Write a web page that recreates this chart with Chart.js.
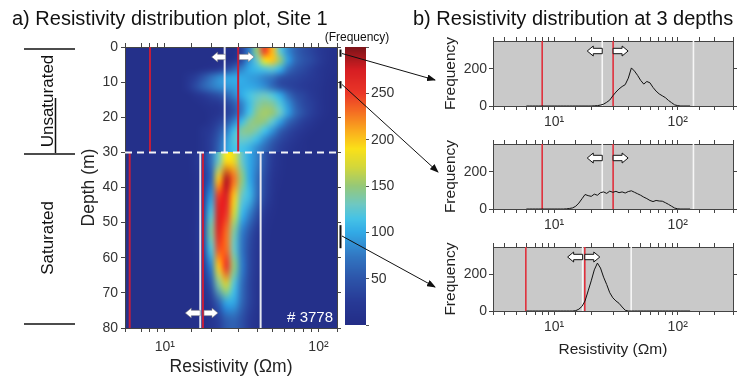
<!DOCTYPE html>
<html><head><meta charset="utf-8">
<script src="https://cdn.jsdelivr.net/npm/chart.js@4.4.1/dist/chart.umd.min.js"></script>
<style>
html,body{margin:0;padding:0;background:#fff;}
#wrap{position:relative;width:748px;height:380px;overflow:hidden;font-family:"Liberation Sans",Arial,sans-serif;}
canvas,svg{position:absolute;left:0;top:0;}
</style></head><body>
<div id="wrap">
<canvas id="cA" width="748" height="380"></canvas>
<canvas id="cB" width="748" height="380"></canvas>
<canvas id="h1" width="748" height="380"></canvas>
<canvas id="h2" width="748" height="380"></canvas>
<canvas id="h3" width="748" height="380"></canvas>
<svg id="ov" width="748" height="380" xmlns="http://www.w3.org/2000/svg" font-family="Liberation Sans, Arial, sans-serif">
  <defs><marker id="ah" markerWidth="9" markerHeight="7" refX="8" refY="3.5" orient="auto" markerUnits="userSpaceOnUse"><path d="M0,0 L9,3.5 L0,7 z" fill="#111"/></marker></defs>
  <text x="12" y="25" font-size="20" fill="#111">a) Resistivity distribution plot, Site 1</text>
  <text x="413" y="25" font-size="20" fill="#111">b) Resistivity distribution at 3 depths</text>
  <g stroke="#111" stroke-width="1.5">
    <line x1="24" y1="49" x2="75" y2="49"/>
    <line x1="24" y1="154" x2="75" y2="154"/>
    <line x1="24" y1="324" x2="75" y2="324"/>
    <line x1="55.5" y1="98" x2="55.5" y2="153"/>
  </g>
  <text transform="translate(52.5,101) rotate(-90)" text-anchor="middle" font-size="17" fill="#111">Unsaturated</text>
  <text transform="translate(52.5,238) rotate(-90)" text-anchor="middle" font-size="17" fill="#111">Saturated</text>
  <text x="357" y="41" text-anchor="middle" font-size="12" fill="#111">(Frequency)</text>
  <g stroke="#111" stroke-width="1" marker-end="url(#ah)">
    <line x1="342" y1="53.5" x2="435" y2="80"/>
    <line x1="342" y1="84.5" x2="438" y2="172"/>
    <line x1="342" y1="236" x2="435" y2="287"/>
  </g>
</svg>
</div>
<script>
// ---------- data ----------
const RES_COLS = [10,11.22,12.59,14.13,15.85,17.78,19.95,22.39,25.12,28.18,31.62,35.48,39.81,44.67,50.12,56.23,63.1,70.79,79.43,89.13,100,112.2,125.9];
const UPPER_ROW_EDGES = [0,2.5,5,7.5,10,12.5,15,17.5,20,22.5,25,27.5,30];
const UPPER_FREQ = [
 [5,5,5,5,5,5,5,5,5,5,30,80,150,245,205,125,85,60,45,35,25,15,10],
 [5,5,5,5,5,5,5,5,5,15,40,90,130,185,200,150,95,65,50,40,28,15,8],
 [5,5,5,5,5,10,15,25,40,60,80,100,110,120,125,105,70,50,40,30,20,12,8],
 [5,5,5,15,30,50,70,85,95,100,100,95,90,80,70,50,40,35,30,25,18,10,6],
 [5,5,5,20,40,60,75,85,90,95,100,100,95,85,65,45,35,30,25,20,15,8,5],
 [5,5,5,5,15,25,35,45,60,80,100,115,125,130,120,100,70,45,35,25,15,8,5],
 [5,5,5,5,5,10,15,20,35,55,80,110,135,145,140,120,90,60,40,30,18,8,5],
 [5,5,5,5,5,5,10,15,30,50,80,115,145,155,150,130,95,65,45,30,18,8,5],
 [5,5,5,5,5,5,15,30,50,80,110,140,150,145,125,95,65,45,30,20,10,5,5],
 [5,5,5,5,5,15,25,45,75,110,140,145,135,115,90,60,40,28,18,10,5,5,5],
 [5,5,5,5,5,15,30,55,90,120,130,125,110,85,60,40,28,18,10,5,5,5,5],
 [5,5,5,5,5,15,30,60,95,115,115,105,85,65,45,30,20,12,8,5,5,5,5]
];
const LOWER_ROW_EDGES = [30,35,40,45,50,55,60,65,70,75,80];
const LOWER_FREQ = [
 [5,5,5,5,15,30,70,130,190,180,130,100,80,50,25,12,5,5,5,5,5,5,5],
 [5,5,5,5,10,25,60,200,285,230,150,100,70,40,18,8,5,5,5,5,5,5,5],
 [5,5,5,5,10,30,90,250,270,200,130,110,70,35,15,5,5,5,5,5,5,5,5],
 [5,5,5,5,10,35,120,270,250,170,110,80,45,20,8,5,5,5,5,5,5,5,5],
 [5,5,5,5,12,40,140,265,230,140,80,50,25,12,5,5,5,5,5,5,5,5,5],
 [5,5,5,5,10,35,120,240,230,130,75,40,20,8,5,5,5,5,5,5,5,5,5],
 [5,5,5,5,8,25,80,200,250,150,80,40,18,8,5,5,5,5,5,5,5,5,5],
 [5,5,5,5,5,15,50,140,170,120,70,35,15,5,5,5,5,5,5,5,5,5,5],
 [5,5,5,5,5,10,25,60,100,100,65,35,15,5,5,5,5,5,5,5,5,5,5],
 [5,5,5,5,5,5,15,30,55,60,45,25,12,5,5,5,5,5,5,5,5,5,5]
];
const HIST_RES = [5.96,6.31,6.68,7.08,7.5,7.94,8.41,8.91,9.44,10,10.59,11.22,11.89,12.59,13.34,14.13,14.96,15.85,16.79,17.78,18.84,19.95,21.13,22.39,23.71,25.12,26.61,28.18,29.85,31.62,33.5,35.48,37.58,39.81,42.17,44.67,47.32,50.12,53.09,56.23,59.57,63.1,66.83,70.79,74.99,79.43,84.14,89.13,94.41,100,105.9,112.2,118.9,125.9];
const HIST_2M = [0,0,0,0,0,0,0,0,0,0,0,0,0,0,0,0,0,0,0,0,0,0,1,2,5,10,20,32,55,75,92,105,115,150,205,188,165,138,118,132,125,100,80,65,55,45,30,18,6,2,0,0,0,0];
const HIST_10M = [0,0,0,0,0,0,0,0,0,0,0,0,0,1,3,6,15,32,55,78,72,68,80,74,88,92,84,96,90,95,88,92,86,94,98,90,82,74,64,56,46,40,46,43,42,34,25,15,5,1,0,0,0,0];
const HIST_53M = [0,0,0,0,0,0,0,0,0,0,0,0,0,0,0,0,2,10,25,55,110,165,225,262,235,185,145,100,72,55,42,22,4,0,0,0,0,0,0,0,0,0,0,0,0,0,0,0,0,0,0,0,0,0];
const RED_UPPER = [8, 30];
const WHITE_UPPER = [24.5, 134];
const RED_LOWER = [5.9, 17.7];
const WHITE_LOWER = [17, 42];
const WATER_TABLE = 30;
const DEPTH_WINDOWS = [[1, 2.5], [10, 11.5], [51, 57]];
const COUNT_LABEL = '# 3778';
const CBAR_TICKS = [50, 100, 150, 200, 250];
const HIST_Y_TICKS = [0, 200];
const X_TICK_LABELS = {10: '10¹', 100: '10²'};
const A_RANGE_X = [5.5, 132], A_RANGE_Y = [0, 80];
const H_RANGE_X = [3.2, 280], H_RANGE_Y = [0, 350];
const CB_RANGE = [0, 300];

// ---------- style ----------
const CMAP = [
 [0,35,45,135],[25,40,58,150],[50,45,85,170],[75,50,120,195],[100,50,170,230],
 [115,70,195,230],[130,110,200,195],[150,150,200,120],[170,210,215,60],[190,250,225,25],
 [210,250,170,30],[230,245,110,35],[250,235,55,40],[275,215,30,35],[300,125,20,25]];
function cmap(v){
  v = Math.max(CMAP[0][0], Math.min(CMAP[CMAP.length-1][0], v));
  for (let i=1;i<CMAP.length;i++){
    if (v <= CMAP[i][0]) {
      const a=CMAP[i-1], b=CMAP[i], t=(v-a[0])/(b[0]-a[0]);
      return [a[1]+t*(b[1]-a[1]), a[2]+t*(b[2]-a[2]), a[3]+t*(b[3]-a[3])];
    }
  }
  const l=CMAP[CMAP.length-1]; return [l[1],l[2],l[3]];
}
const RED_A = '#c21e3c', WHITE_A = '#e4e6f0', RED_H = '#e0303c', WHITE_H = '#f6f6f6';
Chart.defaults.font.family = '"Liberation Sans", Arial, sans-serif';
Chart.defaults.color = '#222';

function vline(v, y0, y1, color, w){
  return {data:[{x:v,y:y0},{x:v,y:y1}], showLine:true, borderColor:color, borderWidth:w, pointRadius:0};
}
function logLabel(v){
  for (const k in X_TICK_LABELS) if (Math.abs(v - (+k)) < 1e-6) return X_TICK_LABELS[k];
  return '';
}
function blockArrow(ctx, xBase, y, dir, len, fill, stroke, lw){
  const hl = 6, hh = 5, sh = 2.7, xTip = xBase + dir*len, xh = xTip - dir*hl;
  ctx.beginPath();
  ctx.moveTo(xBase, y-sh); ctx.lineTo(xh, y-sh); ctx.lineTo(xh, y-hh); ctx.lineTo(xTip, y);
  ctx.lineTo(xh, y+hh); ctx.lineTo(xh, y+sh); ctx.lineTo(xBase, y+sh); ctx.closePath();
  ctx.fillStyle = fill; ctx.fill();
  if (stroke) { ctx.strokeStyle = stroke; ctx.lineWidth = lw; ctx.stroke(); }
}
function drawGrid(chart, grid, rowEdges){
  const xs = chart.scales.x, ys = chart.scales.y, ctx = chart.ctx;
  const nR = grid.length, nC = RES_COLS.length;
  const off = document.createElement('canvas'); off.width = nC; off.height = nR;
  const octx = off.getContext('2d'); const img = octx.createImageData(nC, nR);
  for (let r=0;r<nR;r++) for (let c=0;c<nC;c++){
    const col = cmap(grid[r][c]), k = (r*nC+c)*4;
    img.data[k]=col[0]; img.data[k+1]=col[1]; img.data[k+2]=col[2]; img.data[k+3]=255;
  }
  octx.putImageData(img,0,0);
  const lo = RES_COLS[0]/Math.sqrt(RES_COLS[1]/RES_COLS[0]);
  const hi = RES_COLS[nC-1]*Math.sqrt(RES_COLS[nC-1]/RES_COLS[nC-2]);
  const x0 = xs.getPixelForValue(lo), x1 = xs.getPixelForValue(hi);
  const y0 = ys.getPixelForValue(rowEdges[0]), y1 = ys.getPixelForValue(rowEdges[rowEdges.length-1]);
  ctx.imageSmoothingEnabled = true; ctx.imageSmoothingQuality = 'high';
  ctx.drawImage(off, x0, y0, x1-x0, y1-y0);
}
const heatPlugin = {
  id:'heat',
  beforeDraw(chart){
    const {ctx, chartArea:a} = chart;
    ctx.save();
    ctx.beginPath(); ctx.rect(a.left, a.top, a.right-a.left, a.bottom-a.top); ctx.clip();
    const bg = cmap(5); ctx.fillStyle = `rgb(${bg[0]},${bg[1]},${bg[2]})`;
    ctx.fillRect(a.left, a.top, a.right-a.left, a.bottom-a.top);
    drawGrid(chart, UPPER_FREQ, UPPER_ROW_EDGES);
    drawGrid(chart, LOWER_FREQ, LOWER_ROW_EDGES);
    ctx.restore();
  },
  afterDatasetsDraw(chart){
    const {ctx, chartArea:a, scales:{x, y}} = chart;
    ctx.save();
    const yu = a.top + 10, yl = a.bottom - 15;
    blockArrow(ctx, x.getPixelForValue(WHITE_UPPER[0]) + 1, yu, -1, 14, '#fff', 'rgba(110,110,120,0.7)', 0.8);
    blockArrow(ctx, x.getPixelForValue(RED_UPPER[1]) + 1, yu, 1, 15, '#fff', 'rgba(110,110,120,0.7)', 0.8);
    blockArrow(ctx, x.getPixelForValue(WHITE_LOWER[0]), yl, -1, 15, '#fff', 'rgba(110,110,120,0.7)', 0.8);
    blockArrow(ctx, x.getPixelForValue(RED_LOWER[1]) + 1, yl, 1, 14, '#fff', 'rgba(110,110,120,0.7)', 0.8);
    ctx.fillStyle = '#fff'; ctx.font = '15px "Liberation Sans", Arial, sans-serif';
    ctx.textAlign = 'right'; ctx.textBaseline = 'alphabetic';
    ctx.fillText(COUNT_LABEL, a.right - 4, a.bottom - 6);
    ctx.strokeStyle = '#111'; ctx.lineWidth = 2;
    for (const w of DEPTH_WINDOWS){
      ctx.beginPath(); ctx.moveTo(a.right + 3.5, y.getPixelForValue(w[0]) - 1);
      ctx.lineTo(a.right + 3.5, y.getPixelForValue(w[1]) + 1); ctx.stroke();
    }
    ctx.restore();
  }
};

// ---------- panel a ----------
const axisCol = '#444';
new Chart(document.getElementById('cA'), {
  type:'scatter',
  data:{datasets:[
    {data:[{x:A_RANGE_X[0],y:WATER_TABLE},{x:A_RANGE_X[1],y:WATER_TABLE}], showLine:true, borderColor:'#f4f4f8', borderWidth:2, borderDash:[7,5], pointRadius:0},
    ...RED_UPPER.map(v=>vline(v, 0, WATER_TABLE, RED_A, 2)),
    ...WHITE_UPPER.map(v=>vline(v, 0, WATER_TABLE, WHITE_A, 2)),
    ...RED_LOWER.map(v=>vline(v, WATER_TABLE, A_RANGE_Y[1], RED_A, 2)),
    ...WHITE_LOWER.map(v=>vline(v, WATER_TABLE, A_RANGE_Y[1], WHITE_A, 2)),
  ]},
  options:{
    responsive:false, animation:false, events:[],
    layout:{padding:{left:70, right:405, top:42, bottom:0}},
    plugins:{legend:{display:false}, tooltip:{enabled:false}},
    scales:{
      x:{type:'logarithmic', position:'bottom', min:A_RANGE_X[0], max:A_RANGE_X[1], afterFit:s=>{s.height=52;},
         ticks:{autoSkip:false, maxRotation:0, padding:7, font:{size:14}, color:'#333', callback:logLabel},
         grid:{drawOnChartArea:false, tickLength:4, color:axisCol}, border:{color:axisCol},
         title:{display:true, text:'Resistivity (Ωm)', font:{size:17.5}, color:'#222', padding:{top:0, bottom:2}}},
      x2:{type:'logarithmic', position:'top', min:A_RANGE_X[0], max:A_RANGE_X[1], afterFit:s=>{s.height=5;},
         ticks:{autoSkip:false, callback:()=>''}, grid:{drawOnChartArea:false, tickLength:4, color:axisCol}, border:{color:axisCol}},
      y:{type:'linear', reverse:true, min:A_RANGE_Y[0], max:A_RANGE_Y[1], afterFit:s=>{s.width=55;},
         ticks:{stepSize:10, padding:3, font:{size:14}, color:'#333'},
         grid:{drawOnChartArea:false, tickLength:4, color:axisCol}, border:{color:axisCol},
         title:{display:true, text:'Depth (m)', font:{size:17.5}, color:'#222', padding:{top:9, bottom:0}}},
      y2:{type:'linear', position:'right', reverse:true, min:A_RANGE_Y[0], max:A_RANGE_Y[1], afterFit:s=>{s.width=6;},
         ticks:{stepSize:10, callback:()=>''}, grid:{drawOnChartArea:false, tickLength:4, color:axisCol}, border:{color:axisCol}}
    }
  },
  plugins:[heatPlugin]
});

// ---------- colour bar ----------
const cbarPlugin = {
  id:'cbar',
  beforeDraw(chart){
    const {ctx, chartArea:a, scales:{y}} = chart;
    for (let py = Math.floor(a.top); py < a.bottom; py++){
      const c = cmap(y.getValueForPixel(py + 0.5));
      ctx.fillStyle = `rgb(${c[0]|0},${c[1]|0},${c[2]|0})`;
      ctx.fillRect(a.left, py, a.right - a.left, 1);
    }
  }
};
new Chart(document.getElementById('cB'), {
  type:'scatter', data:{datasets:[]},
  options:{
    responsive:false, animation:false, events:[],
    layout:{padding:{left:345, right:748-366-35, top:47, bottom:55}},
    plugins:{legend:{display:false}, tooltip:{enabled:false}},
    scales:{
      x:{display:false, min:0, max:1},
      y:{position:'right', min:CB_RANGE[0], max:CB_RANGE[1], afterFit:s=>{s.width=35;},
         ticks:{stepSize:50, padding:2, font:{size:14}, color:'#333', callback:v=>CBAR_TICKS.includes(v)?String(v):''},
         grid:{drawOnChartArea:false, tickLength:3, color:'#555'}, border:{display:false}}
    }
  },
  plugins:[cbarPlugin]
});

// ---------- histograms ----------
function makeHist(id, values, top, bottom, reds, whites, arrowOff, xTitle){
  const xH = xTitle ? 54 : 25;
  const padBottom = 380 - bottom - xH;
  const histPlugin = {
    id:'hbg',
    beforeDraw(chart){
      const {ctx, chartArea:a} = chart;
      ctx.fillStyle = '#c9c9c9'; ctx.fillRect(a.left, a.top, a.right-a.left, a.bottom-a.top);
    },
    afterDatasetsDraw(chart){
      const {ctx, chartArea:a, scales:{x}} = chart;
      ctx.save();
      const yy = a.top + arrowOff;
      blockArrow(ctx, x.getPixelForValue(whites[0]), yy, -1, 15, '#fff', '#111', 1);
      blockArrow(ctx, x.getPixelForValue(reds[1]), yy, 1, 15, '#fff', '#111', 1);
      ctx.restore();
    }
  };
  return new Chart(document.getElementById(id), {
    type:'scatter',
    data:{datasets:[
      {data:HIST_RES.map((x,i)=>({x, y:values[i]})), showLine:true, borderColor:'#111', borderWidth:1, pointRadius:0},
      ...reds.map(v=>vline(v, H_RANGE_Y[0], H_RANGE_Y[1], RED_H, 1.6)),
      ...whites.map(v=>vline(v, H_RANGE_Y[0], H_RANGE_Y[1], WHITE_H, 1.6)),
    ]},
    options:{
      responsive:false, animation:false, events:[],
      layout:{padding:{left:438, right:9, top:top-5, bottom:padBottom}},
      plugins:{legend:{display:false}, tooltip:{enabled:false}},
      scales:{
        x:{type:'logarithmic', position:'bottom', min:H_RANGE_X[0], max:H_RANGE_X[1], afterFit:s=>{s.height=xH;},
           ticks:{autoSkip:false, maxRotation:0, padding:4, font:{size:14}, color:'#333', callback:logLabel},
           grid:{drawOnChartArea:false, tickLength:4, color:axisCol}, border:{color:axisCol},
           title:{display:!!xTitle, text:'Resistivity (Ωm)', font:{size:15.5}, color:'#222', padding:{top:0, bottom:6}}},
        x2:{type:'logarithmic', position:'top', min:H_RANGE_X[0], max:H_RANGE_X[1], afterFit:s=>{s.height=5;},
           ticks:{autoSkip:false, callback:()=>''}, grid:{drawOnChartArea:false, tickLength:4, color:axisCol}, border:{color:axisCol}},
        y:{min:H_RANGE_Y[0], max:H_RANGE_Y[1], afterFit:s=>{s.width=55;},
           ticks:{stepSize:200, includeBounds:false, padding:2, font:{size:14}, color:'#333', callback:v=>HIST_Y_TICKS.includes(v)?String(v):''},
           grid:{drawOnChartArea:false, tickLength:4, color:axisCol}, border:{color:axisCol},
           title:{display:true, text:'Frequency', font:{size:15.5}, color:'#222', padding:{top:3, bottom:0}}},
        y2:{position:'right', min:H_RANGE_Y[0], max:H_RANGE_Y[1], afterFit:s=>{s.width=6;},
           ticks:{stepSize:200, includeBounds:false, callback:()=>''}, grid:{drawOnChartArea:false, tickLength:4, color:axisCol}, border:{color:axisCol}}
      }
    },
    plugins:[histPlugin]
  });
}
makeHist('h1', HIST_2M, 41, 106, RED_UPPER, WHITE_UPPER, 10, false);
makeHist('h2', HIST_10M, 144, 209, RED_UPPER, WHITE_UPPER, 14, false);
makeHist('h3', HIST_53M, 247, 311, RED_LOWER, WHITE_LOWER, 10, true);
</script>
</body></html>
